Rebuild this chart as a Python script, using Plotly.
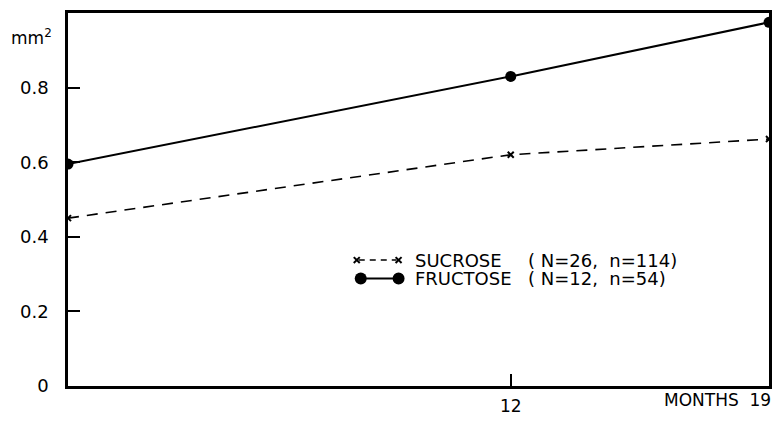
import plotly.graph_objects as go

months = [0, 12, 19]
sucrose = [0.45, 0.62, 0.662]
fructose = [0.595, 0.83, 0.975]
y_ticks = [0, 0.2, 0.4, 0.6, 0.8]
y_tick_labels = ["0", "0.2", "0.4", "0.6", "0.8"]
x_ticks = [12]
x_tick_labels = ["12"]
sucrose_name = "SUCROSE"
sucrose_info = "( N=26,  n=114)"
fructose_name = "FRUCTOSE"
fructose_info = "( N=12,  n=54)"

FONT = "DejaVu Sans"
W, H = 778, 422
L, R, T, B = 68, 6, 13, 27
PW, PH = W - L - R, H - T - B


def px(x):
    return (x - L) / PW


def py(y):
    return (H - B - y) / PH


fig = go.Figure()
fig.add_trace(go.Scatter(
    x=months, y=sucrose, mode="lines+markers",
    line=dict(color="black", width=1.6, dash="11px,8px"),
    marker=dict(symbol="x-thin", size=6, line=dict(color="black", width=2)),
    showlegend=False, cliponaxis=True))
fig.add_trace(go.Scatter(
    x=months, y=fructose, mode="lines+markers",
    line=dict(color="black", width=2),
    marker=dict(symbol="circle", size=11, color="black"),
    showlegend=False, cliponaxis=True))

shapes = []
# legend samples
sy, fy = 266, 285
shapes.append(dict(type="line", xref="paper", yref="paper", x0=px(360), x1=px(398),
                   y0=py(sy), y1=py(sy), line=dict(color="black", width=1.6, dash="6px,5px")))
for cx in (358, 400):
    for d in (1, -1):
        shapes.append(dict(type="line", xref="paper", yref="paper",
                           x0=px(cx - 3), x1=px(cx + 3), y0=py(sy - 3 * d), y1=py(sy + 3 * d),
                           line=dict(color="black", width=2)))
shapes.append(dict(type="line", xref="paper", yref="paper", x0=px(362), x1=px(400),
                   y0=py(fy), y1=py(fy), line=dict(color="black", width=2)))
for cx in (362, 400):
    shapes.append(dict(type="circle", xref="paper", yref="paper", xsizemode="pixel", ysizemode="pixel",
                       xanchor=px(cx), yanchor=py(fy), x0=-6, x1=6, y0=-6, y1=6,
                       fillcolor="black", line=dict(color="black", width=0)))

ann = []
tf = dict(family=FONT, size=18, color="black")
for name, info, yy in ((sucrose_name, sucrose_info, sy), (fructose_name, fructose_info, fy)):
    ann.append(dict(xref="paper", yref="paper", x=px(415), y=py(yy), text=name, borderpad=0,
                    xanchor="left", yanchor="middle", showarrow=False, font=tf))
    ann.append(dict(xref="paper", yref="paper", x=px(529), y=py(yy), text=info, borderpad=0,
                    xanchor="left", yanchor="middle", showarrow=False, font=tf))
ann.append(dict(xref="paper", yref="paper", x=px(54), y=py(38), text="mm<sup>2</sup>",
                xanchor="right", yanchor="middle", showarrow=False,
                font=dict(family=FONT, size=17, color="black")))
ann.append(dict(xref="paper", yref="paper", x=px(776), y=py(409), text="MONTHS  19",
                xanchor="right", yanchor="middle", showarrow=False,
                font=dict(family=FONT, size=17, color="black")))

fig.update_layout(
    width=W, height=H,
    margin=dict(l=L, r=R, t=T, b=B),
    plot_bgcolor="white", paper_bgcolor="white",
    shapes=shapes, annotations=ann,
    xaxis=dict(range=[0, 19], showgrid=False, zeroline=False, showline=True, mirror=True,
               linecolor="black", linewidth=2.5, ticks="inside", ticklen=12, tickwidth=1.5,
               tickcolor="black", tickvals=x_ticks, ticktext=x_tick_labels, ticklabelstandoff=3,
               tickfont=dict(family=FONT, size=17, color="black")),
    yaxis=dict(range=[0, 1.0], showgrid=False, zeroline=False, showline=True, mirror=True,
               linecolor="black", linewidth=2.5, ticks="inside", ticklen=12, tickwidth=1.5,
               tickcolor="black", tickvals=y_ticks, ticktext=y_tick_labels,
               tickfont=dict(family=FONT, size=18, color="black"), ticklabelstandoff=13),
)

fig.write_html("out.html", config={"displayModeBar": False},
               post_script="document.body.style.margin='0';document.body.style.overflow='hidden';")
